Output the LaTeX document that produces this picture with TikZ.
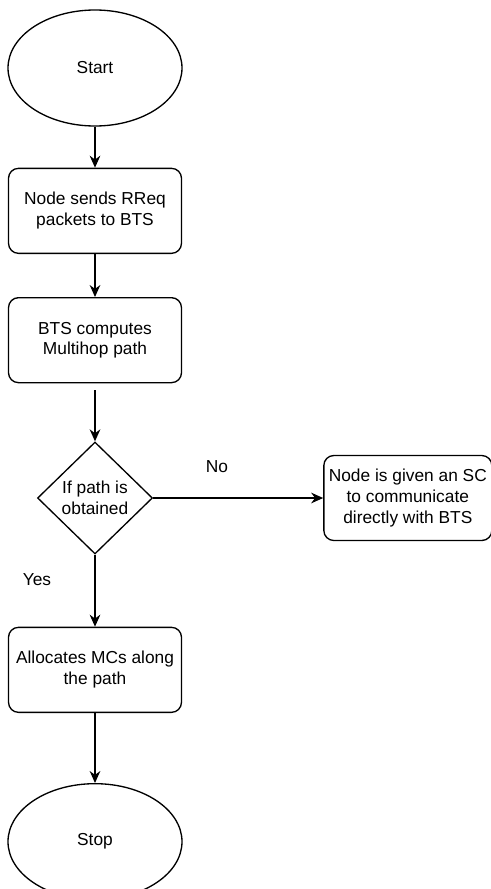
\documentclass[tikz,border=0pt]{standalone}
\usepackage{fontspec}
\setmainfont{Liberation Sans}
\usetikzlibrary{arrows.meta,shapes.geometric,positioning}
\tikzset{
  basic/.style    = {draw, line width=1pt, font=\fontsize{13}{15.5}\selectfont, align=center, inner sep=2pt},
  terminal/.style = {basic, ellipse, minimum width=130.5pt, minimum height=87pt},
  process/.style  = {basic, rectangle, rounded corners=7.5pt, minimum width=129.75pt, minimum height=63.75pt},
  process w/.style = {process, minimum width=126pt},
  decision/.style = {basic, diamond, inner sep=0pt, minimum width=86.25pt, minimum height=84pt},
  branch/.style   = {font=\fontsize{13}{15.5}\selectfont, inner sep=1pt}
}

\begin{document}
\begin{tikzpicture}[
  line width=1pt,
  >={Stealth[length=9pt,width=8pt]}]
\useasboundingbox (0,0) rectangle (368.25pt,-666.75pt);

% main column, top to bottom
\node[terminal] (start) at (71.25pt,-51pt) {Start};
\node[process, below=30.75pt of start] (req) {Node sends RReq\\packets to BTS};
\node[process, below=32.25pt of req] (path) {BTS computes\\Multihop path};
\node[decision, below=43.5pt of path] (dec) {If path is\\obtained};
\node[process, below=54pt of dec] (alloc) {Allocates MCs along\\the path};
\node[terminal, below=52.5pt of alloc] (stop) {Stop};

% the no branch
\node[process w, right=127.5pt of dec] (sc) {Node is given an SC\\to communicate\\directly with BTS};

% branch labels
\node[branch] (no) at (162.75pt,-350.25pt) {No};
\node[branch] (yes) at (27.75pt,-435pt) {Yes};

% connectors
\draw[->] (start) -- (req);
\draw[->] (req) -- (path);
\draw[->, shorten <=5pt] (path) -- (dec);
\draw[->] (dec) -- (sc);
\draw[->] (dec) -- (alloc);
\draw[->] (alloc) -- (stop);
\end{tikzpicture}
\end{document}
